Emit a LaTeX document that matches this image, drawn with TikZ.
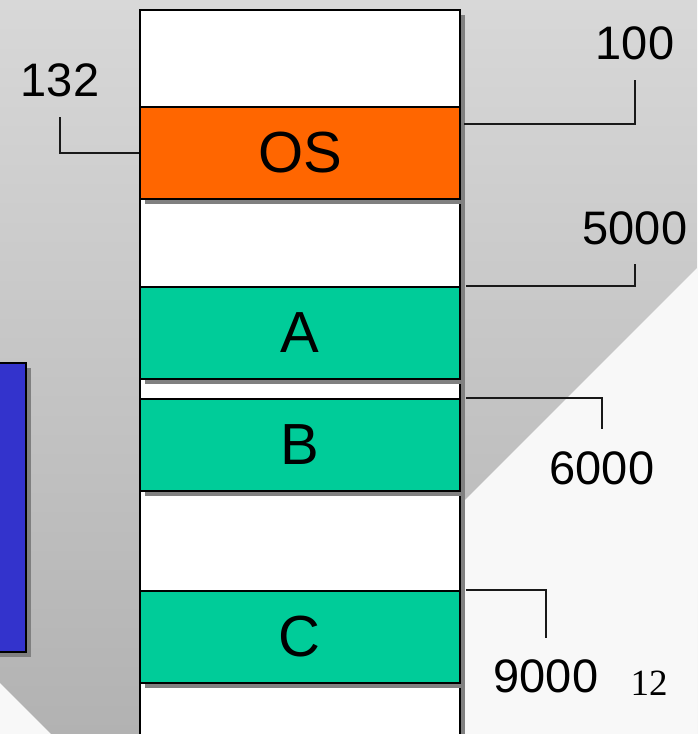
\documentclass[tikz,border=0pt]{standalone}
\usepackage{fontspec}
\setmainfont{Liberation Sans}
\newfontfamily\pagefont{Liberation Serif}
\usetikzlibrary{shadows}
\definecolor{bgtop}{RGB}{216,216,216}
\definecolor{bgbot}{RGB}{178,178,178}
\definecolor{bglight}{RGB}{248,248,248}
\definecolor{osorange}{HTML}{FF6600}
\definecolor{procgreen}{HTML}{00CC99}
\definecolor{cpublue}{HTML}{3333CC}
\definecolor{shadowgray}{HTML}{808080}
\begin{document}
\begin{tikzpicture}[x=1pt,y=-1pt,
  boxshadow/.style={drop shadow={shadow xshift=5pt,shadow yshift=-5pt,fill=shadowgray,opacity=1}},
  memseg/.style={draw=black,line width=1.8pt,inner sep=0pt,minimum width=320pt,anchor=north west,boxshadow},
  seglabel/.style={font=\fontsize{58}{60}\selectfont},
  addr/.style={inner sep=0pt,font=\fontsize{47}{50}\selectfont},
  leader/.style={draw=black!90,line width=1.3pt}]
\useasboundingbox (0,0) rectangle (697,734);
\clip (0,0) rectangle (697,734);
% backdrop
\shade[top color=bgtop,bottom color=bgbot] (0,0) rectangle (697,734);
\fill[bglight] (697,268) -- (697,734) -- (231,734) -- cycle;
\fill[bglight] (0,683) -- (51,734) -- (0,734) -- cycle;
% side block
\node[draw=black,line width=1.8pt,fill=cpublue,boxshadow,inner sep=0pt,
      minimum width=80pt,minimum height=289pt,anchor=north east] (cpu) at (27,362) {};
% memory column
\node[memseg,fill=white,minimum height=780pt] (mem) at (139,9) {};
\node[memseg,fill=osorange,minimum height=92pt,seglabel] (os) at (139,106) {OS};
\node[memseg,fill=procgreen,minimum height=92pt,seglabel] (a) at (139,286) {A};
\node[memseg,fill=procgreen,minimum height=92pt,seglabel] (b) at (139,398) {B};
\node[memseg,fill=procgreen,minimum height=92pt,seglabel] (c) at (139,590) {C};
% address labels
\node[addr] (n132) at (60,80) {132};
\node[addr] (n100) at (635,43) {100};
\node[addr] (n5000) at (635,228) {5000};
\node[addr] (n6000) at (602,468) {6000};
\node[addr] (n9000) at (546,676) {9000};
\node[inner sep=0pt,font=\pagefont\fontsize{37}{40}\selectfont] (pg) at (649,683) {12};
% leaders
\coordinate (t100) at (464,124);
\draw[leader] (os.west) -| ([yshift=-20pt]n132.south);
\draw[leader] (t100) -| ([yshift=-20pt]n100.south);
\draw[leader] ([xshift=5pt]a.north east) -| ([yshift=-19pt]n5000.south);
\draw[leader] ([xshift=5pt]b.north east) -| ([yshift=22pt]n6000.north);
\draw[leader] ([xshift=5pt]c.north east) -| ([yshift=21pt]n9000.north);
\end{tikzpicture}
\end{document}
